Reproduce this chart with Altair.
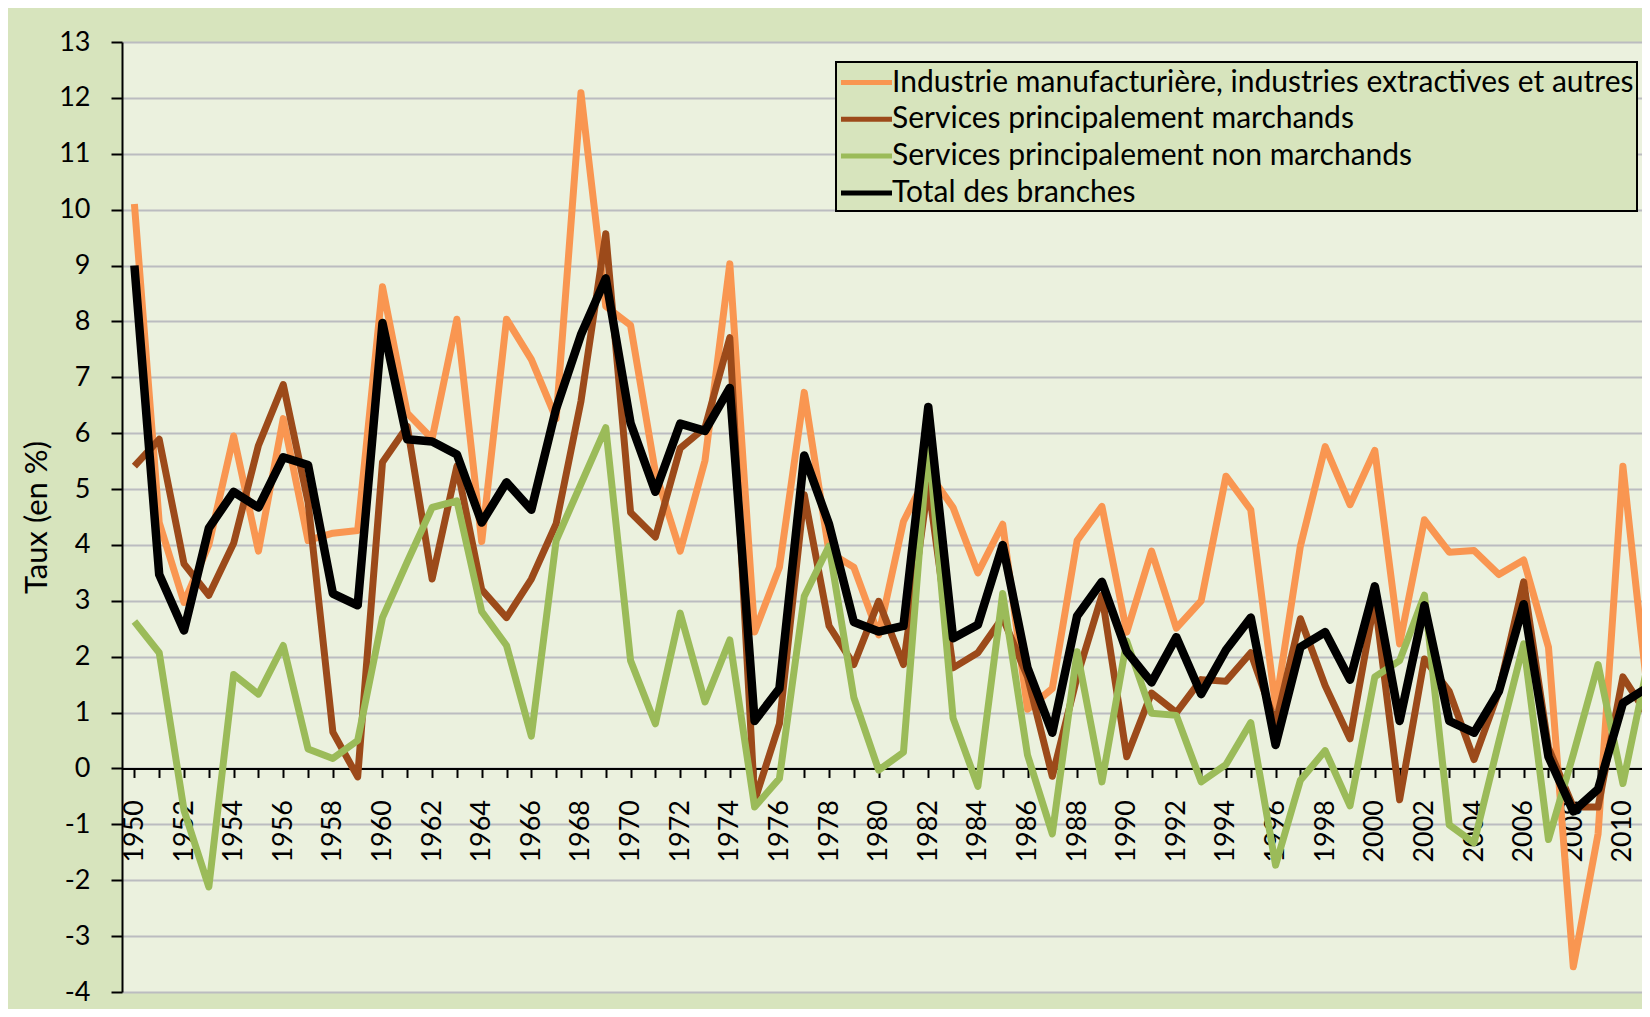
import altair as alt
import pandas as pd

years = list(range(1950, 2012))

industrie = [10.1, 4.4, 2.97, 4.0, 5.95, 3.89, 6.26, 4.08, 4.21, 4.26,
             8.62, 6.36, 5.9, 8.04, 4.06, 8.04, 7.32, 6.26, 12.09, 8.27,
             7.93, 5.3, 3.89, 5.51, 9.03, 2.44, 3.6, 6.73, 3.87, 3.6,
             2.39, 4.42, 5.3, 4.67, 3.5, 4.37, 1.06, 1.43, 4.08, 4.69,
             2.44, 3.89, 2.51, 3.0, 5.23, 4.63, 1.11, 3.98, 5.76, 4.72,
             5.69, 2.23, 4.45, 3.87, 3.9, 3.47, 3.73, 2.17, -3.55, -1.17,
             5.41, 1.33]

marchands = [5.41, 5.89, 3.66, 3.1, 4.03, 5.78, 6.87, 4.77, 0.65, -0.15,
             5.48, 6.12, 3.39, 5.41, 3.2, 2.7, 3.39, 4.38, 6.57, 9.57,
             4.58, 4.14, 5.73, 6.1, 7.71, -0.58, 0.8, 4.9, 2.55, 1.86,
             2.99, 1.86, 5.09, 1.8, 2.07, 2.7, 1.64, -0.14, 1.64, 3.1,
             0.21, 1.35, 1.0, 1.59, 1.56, 2.07, 0.8, 2.68, 1.48, 0.53,
             3.02, -0.56, 1.96, 1.38, 0.16, 1.38, 3.34, 0.37, -0.69, -0.69,
             1.64, 0.95]

non_marchands = [2.63, 2.07, -0.75, -2.12, 1.68, 1.33, 2.2, 0.35, 0.18, 0.5,
                 2.7, 3.7, 4.67, 4.79, 2.81, 2.2, 0.58, 4.08, 5.09, 6.1,
                 1.93, 0.8, 2.78, 1.19, 2.3, -0.69, -0.18, 3.08, 3.98, 1.27,
                 -0.03, 0.29, 5.89, 0.9, -0.32, 3.13, 0.24, -1.17, 2.09, -0.24,
                 2.28, 0.99, 0.95, -0.24, 0.07, 0.82, -1.73, -0.21, 0.32, -0.67,
                 1.64, 1.93, 3.1, -1.01, -1.33, 0.48, 2.23, -1.27, 0.25, 1.86,
                 -0.27, 1.86]

total = [9.0, 3.47, 2.47, 4.3, 4.95, 4.67, 5.57, 5.43, 3.13, 2.92,
         7.97, 5.89, 5.85, 5.62, 4.4, 5.12, 4.63, 6.44, 7.76, 8.77,
         6.18, 4.95, 6.17, 6.04, 6.81, 0.85, 1.43, 5.6, 4.37, 2.62,
         2.45, 2.55, 6.47, 2.33, 2.57, 4.0, 1.8, 0.64, 2.73, 3.34,
         2.09, 1.54, 2.35, 1.33, 2.12, 2.7, 0.42, 2.17, 2.44, 1.59,
         3.26, 0.85, 2.92, 0.85, 0.64, 1.38, 2.94, 0.21, -0.77, -0.37,
         1.17, 1.45]

series_names = [
    "Industrie manufacturière, industries extractives et autres",
    "Services principalement marchands",
    "Services principalement non marchands",
    "Total des branches",
]
series_values = [industrie, marchands, non_marchands, total]
series_colors = ["#F99651", "#9C4A1A", "#9BBB59", "#000000"]
series_widths = [7, 7, 7, 8.5]

y_ticks = list(range(-4, 14))

rows = []
for name, vals in zip(series_names, series_values):
    for yr, v in zip(years, vals):
        rows.append({"annee": yr, "taux": v, "serie": name})
df = pd.DataFrame(rows)

FONT = "Lato"
PLOT_W = 1520
PLOT_H = 950
zero_offset = -PLOT_H * 4 / 17

x_enc = alt.X(
    "annee:Q",
    scale=alt.Scale(domain=[1949.5, 2010.77], nice=False, zero=False),
    axis=alt.Axis(
        values=years[:-1],
        format="d",
        labelExpr="datum.value % 2 == 0 ? datum.label : ''",
        labelAngle=270,
        labelFont=FONT,
        labelFontSize=27,
        labelColor="black",
        labelPadding=22,
        labelOverlap=False,
        labelFlush=False,
        labelBound=False,
        tickSize=9,
        tickWidth=2,
        tickColor="black",
        domainColor="black",
        domainWidth=2,
        grid=False,
        offset=zero_offset,
        title=None,
    ),
)

y_enc = alt.Y(
    "taux:Q",
    scale=alt.Scale(domain=[-4, 13], nice=False, zero=False),
    axis=alt.Axis(
        values=y_ticks,
        labelExpr="'' + datum.value",
        labelFont=FONT,
        labelFontSize=27,
        labelColor="black",
        labelPadding=21,
        tickSize=11,
        tickWidth=2,
        tickColor="black",
        domainColor="black",
        domainWidth=2,
        grid=True,
        gridColor="#BBBCC0",
        gridWidth=2,
        title="Taux (en %)",
        titleFont=FONT,
        titleFontSize=31,
        titleFontWeight="normal",
        titleColor="black",
        titleAngle=270,
        titleX=-85,
        titleY=PLOT_H / 2,
        titleAlign="center",
        titleBaseline="middle",
    ),
)

color_enc = alt.Color(
    "serie:N",
    scale=alt.Scale(domain=series_names, range=series_colors),
    legend=alt.Legend(
        orient="none",
        legendX=714,
        legendY=20,
        title=None,
        symbolType="M-1.7,0L1.7,0",
        symbolSize=900,
        symbolStrokeWidth=5,
        symbolOffset=10,
        labelFont=FONT,
        labelFontSize=30,
        labelColor="black",
        labelLimit=1000,
        labelOffset=8,
        fillColor="#D7E4BD",
        strokeColor="black",
        padding=3,
        rowPadding=3.8,
    ),
)

layers = []
for name, w in zip(series_names, series_widths):
    layers.append(
        alt.Chart(df)
        .transform_filter(alt.datum.serie == name)
        .mark_line(strokeWidth=w, strokeJoin="round", strokeCap="butt", clip=True)
        .encode(x=x_enc, y=y_enc, color=color_enc)
    )

chart = (
    alt.layer(*layers)
    .properties(
        width=PLOT_W,
        height=PLOT_H,
        background="#D7E4BD",
        padding={"left": 114, "top": 34, "right": 0, "bottom": 17},
        autosize=alt.AutoSizeParams(type="none"),
    )
    .configure_view(fill="#EBF1DE", stroke=None)
    .configure_legend(strokeWidth=2)
)

chart.save("out.html", embed_options={"renderer": "svg", "actions": False})
